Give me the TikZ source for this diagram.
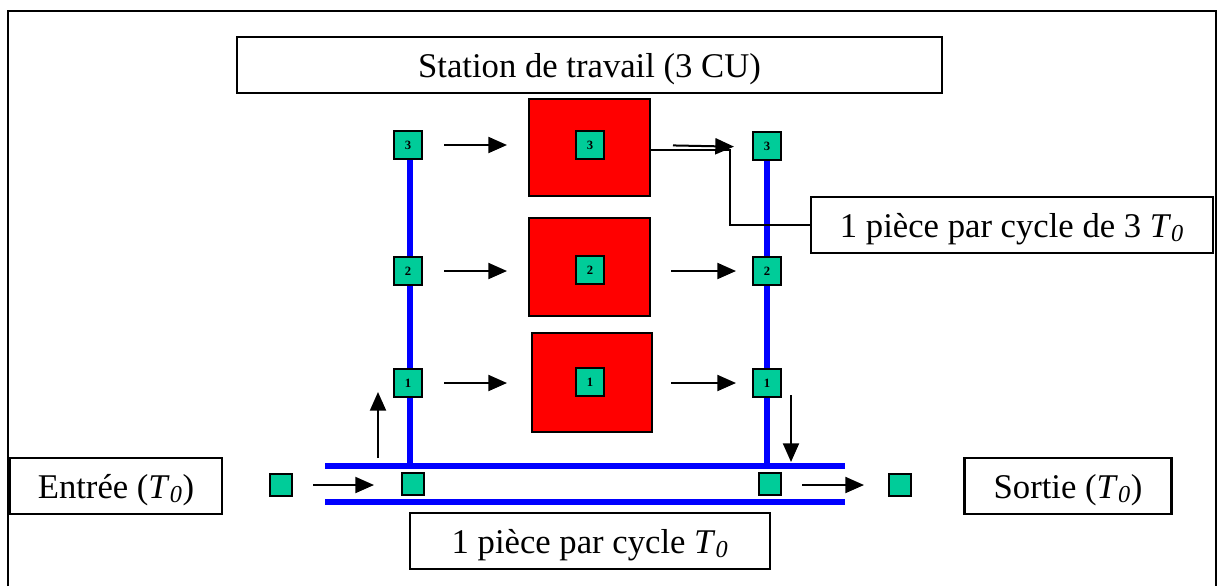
\documentclass[tikz,border=0pt]{standalone}
\usepackage{fontspec}
\setmainfont{Liberation Serif}
\usetikzlibrary{arrows.meta}
\definecolor{cugreen}{RGB}{0,204,153}
\newcommand{\Tz}{\textit{T}\textsubscript{\textit{0}}}
\begin{document}
\begin{tikzpicture}[x=0.75pt,y=-0.75pt,
  lbox/.style={draw=black,line width=1.6pt,fill=white,inner sep=0pt,
    text height=18pt,text depth=0pt,
    font=\fontsize{26}{30}\selectfont},
  cu/.style={draw=black,line width=1.5pt,fill=cugreen,inner sep=0pt,
    minimum width=28*0.75pt,minimum height=28*0.75pt,
    font=\fontsize{9.5}{10}\selectfont\bfseries},
  piece/.style={draw=black,line width=1.5pt,fill=cugreen,inner sep=0pt,
    minimum width=22*0.75pt,minimum height=22*0.75pt},
  machine/.style={draw=black,line width=1.5pt,fill=red,inner sep=0pt},
  flow/.style={line width=1.5pt,-{Triangle[length=14pt,width=12pt]}},
  rail/.style={draw=blue,line width=3.8pt}]
\useasboundingbox (0,0) rectangle (1222,586);
% outer frame (open at bottom)
\draw[line width=2.2pt] (8,586) -- (8,11) -- (1216,11) -- (1216,586);

% text boxes
\node[lbox,minimum width=705*0.75pt,minimum height=56*0.75pt] (title) at (589.5,65) {Station de travail (3 CU)};
\node[lbox,minimum width=402*0.75pt,minimum height=56*0.75pt] (cyc3) at (1012,225) {1 pièce par cycle de 3 \Tz};
\node[lbox,minimum width=212*0.75pt,minimum height=56*0.75pt] (entree) at (116,486) {Entrée (\Tz)};
\node[lbox,minimum width=207*0.75pt,minimum height=56*0.75pt] (sortie) at (1068,486) {Sortie (\Tz)};
\node[lbox,minimum width=360*0.75pt,minimum height=56*0.75pt] (cyc1) at (590,541) {1 pièce par cycle \Tz};

% conveyor rails
\draw[rail] (325,466) -- (845,466);
\draw[rail] (325,502) -- (845,502);

% vertical rails (drawn before the CU nodes)
\coordinate (lt) at (410,145);
\coordinate (lb) at (410,466);
\coordinate (rt) at (767,146);
\coordinate (rb) at (767,466);
\draw[rail] (lt) -- (lb);
\draw[rail] (rt) -- (rb);

% left column CU
\node[cu] (L3) at (408,145) {3};
\node[cu] (L2) at (408,271) {2};
\node[cu] (L1) at (408,383) {1};
% right column CU
\node[cu] (R3) at (767,146) {3};
\node[cu] (R2) at (767,271) {2};
\node[cu] (R1) at (767,383) {1};

% machines
\node[machine,minimum width=121*0.75pt,minimum height=97*0.75pt] (M3) at (589.5,147) {};
\node[machine,minimum width=121*0.75pt,minimum height=98*0.75pt] (M2) at (589.5,267) {};
\node[machine,minimum width=120*0.75pt,minimum height=99*0.75pt] (M1) at (592,382) {};
\node[cu] (P3) at (590,145) {3};
\node[cu] (P2) at (590,270) {2};
\node[cu] (P1) at (590,382) {1};

% pieces on conveyor
\node[piece] (E) at (281,485) {};
\node[piece] (C1) at (413,484) {};
\node[piece] (C2) at (770,484) {};
\node[piece] (X) at (900,485) {};

% flow arrows
\draw[flow,shorten <=21*0.75pt,shorten >=21*0.75pt] (L3.east) -- (L3.east -| M3.west);
\draw[flow,shorten <=21*0.75pt,shorten >=21*0.75pt] (L2.east) -- (L2.east -| M2.west);
\draw[flow,shorten <=21*0.75pt,shorten >=24*0.75pt] (L1.east) -- (L1.east -| M1.west);
\draw[flow,shorten <=22*0.75pt,shorten >=18*0.75pt] ([yshift=2*0.75pt]M3.east) -- ([yshift=-1*0.75pt]R3.west);
\draw[flow,shorten <=20*0.75pt,shorten >=16*0.75pt] (M2.east |- R2.west) -- (R2.west);
\draw[flow,shorten <=18*0.75pt,shorten >=16*0.75pt] (M1.east |- R1.west) -- (R1.west);
\draw[flow,shorten <=20*0.75pt,shorten >=27*0.75pt] (E.east) -- (C1.west |- E.east);
\draw[flow,shorten <=20*0.75pt,shorten >=24*0.75pt] (C2.east |- X.west) -- (X.west);

% vertical arrows
\coordinate (ua) at (378,458);
\coordinate (ub) at (378,392);
\coordinate (da) at (791,395);
\coordinate (db) at (791,462);
\draw[flow] (ua) -- (ub);
\draw[flow] (da) -- (db);

% callout line from machine 3 to label
\coordinate (k) at (730,225);
\draw[line width=1.2pt] ([yshift=-3*0.75pt]M3.east) -| (k) -- (cyc3.west);
\end{tikzpicture}
\end{document}
